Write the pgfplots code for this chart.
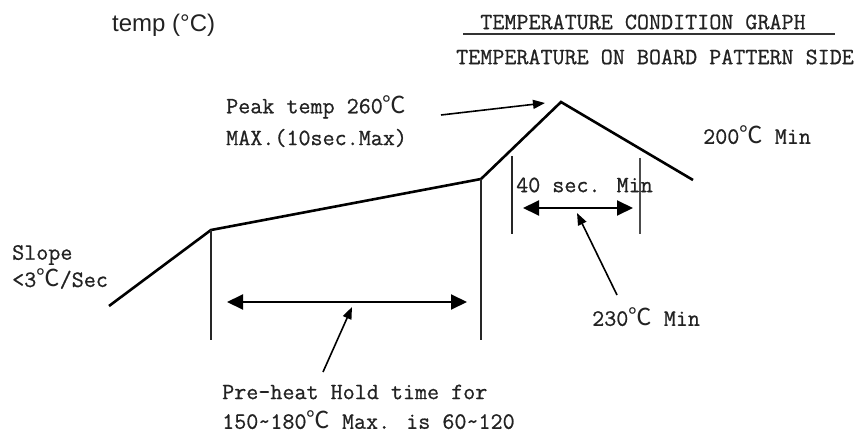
\documentclass[border=0pt]{standalone}
\usepackage{fontspec}
\setmainfont{Liberation Sans}
\newfontfamily\mono[FakeBold=0.7]{Latin Modern Mono}
\newfontfamily\cjk{Noto Sans CJK SC}
\newcommand\degC{{\cjk ℃}}
\usepackage{pgfplots}
\pgfplotsset{compat=1.18}
\usetikzlibrary{arrows.meta}
\definecolor{txt}{HTML}{222222}
\begin{document}
\begin{tikzpicture}
\begin{axis}[scale only axis, width=865pt, height=433pt,
  xmin=0, xmax=865, ymin=0, ymax=433, y dir=reverse,
  hide axis, clip=false]
\addplot[draw=none] coordinates {(0,0) (865,433)};
% temperature profile
\addplot[line width=2.6pt, black, line join=miter] coordinates {(109,306) (211,230) (481,179) (561,102) (693,180)};
% vertical markers
\addplot[line width=1.3pt, black!85] coordinates {(211,230) (211,340)};
\addplot[line width=1.3pt, black!85] coordinates {(481,179) (481,340)};
\addplot[line width=1.3pt, black!85] coordinates {(512,156) (512,234)};
\addplot[line width=1.3pt, black!70] coordinates {(640,158) (640,234)};
% double arrows
\addplot[line width=2pt, black, {Triangle[length=16pt,width=15pt]}-{Triangle[length=16pt,width=15pt]}] coordinates {(227,302) (467,302)};
\addplot[line width=2pt, black, {Triangle[length=16pt,width=15pt]}-{Triangle[length=16pt,width=15pt]}] coordinates {(523,208) (633,208)};
% pointer arrows
\addplot[line width=1.6pt, black, -{Triangle[length=12pt,width=9pt]}] coordinates {(323,372) (352,307)};
\addplot[line width=1.6pt, black, -{Triangle[length=12pt,width=9pt]}] coordinates {(617,295) (577,213)};
\addplot[line width=1.6pt, black, -{Triangle[length=12pt,width=9pt]}] coordinates {(441,115) (545,103)};
% underline of title
\addplot[line width=1.2pt, black!80] coordinates {(463,34) (835,34)};
% texts
\node[anchor=west, inner sep=0, text=txt, font=\fontsize{24}{26}\selectfont] at (axis cs:112,25) {temp (°C)};
\node[anchor=center, inner sep=0, text=txt, font=\mono\fontsize{23.4}{25}\selectfont] at (axis cs:643,22) {TEMPERATURE CONDITION GRAPH};
\node[anchor=center, inner sep=0, text=txt, font=\mono\fontsize{23.4}{25}\selectfont] at (axis cs:655,57) {TEMPERATURE ON BOARD PATTERN SIDE};
\node[anchor=west, inner sep=0, text=txt, font=\mono\fontsize{23.4}{25}\selectfont] at (axis cs:226,107) {Peak temp 260\degC};
\node[anchor=west, inner sep=0, text=txt, font=\mono\fontsize{23.4}{25}\selectfont] at (axis cs:226,138) {MAX.(10sec.Max)};
\node[anchor=west, inner sep=0, text=txt, font=\mono\fontsize{23.4}{25}\selectfont] at (axis cs:703,135) {200\degC{} Min};
\node[anchor=west, inner sep=0, text=txt, font=\mono\fontsize{23.4}{25}\selectfont] at (axis cs:516,185) {40 sec. Min};
\node[anchor=west, inner sep=0, text=txt, font=\mono\fontsize{23.4}{25}\selectfont] at (axis cs:12,255) {Slope};
\node[anchor=west, inner sep=0, text=txt, font=\mono\fontsize{23.4}{25}\selectfont] at (axis cs:12,279) {<3\degC/Sec};
\node[anchor=west, inner sep=0, text=txt, font=\mono\fontsize{23.4}{25}\selectfont] at (axis cs:222,392) {Pre-heat Hold time for};
\node[anchor=west, inner sep=0, text=txt, font=\mono\fontsize{23.4}{25}\selectfont] at (axis cs:222,420) {150\textasciitilde180\degC{} Max. is 60\textasciitilde120};
\node[anchor=west, inner sep=0, text=txt, font=\mono\fontsize{23.4}{25}\selectfont] at (axis cs:592,317) {230\degC{} Min};
\end{axis}
\end{tikzpicture}
\end{document}
